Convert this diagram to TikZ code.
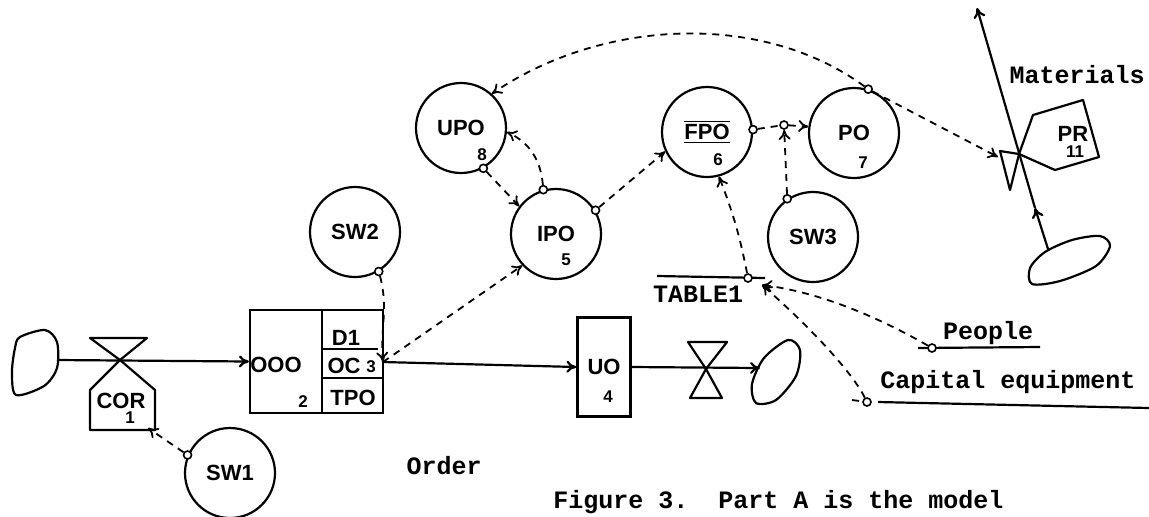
\documentclass[tikz,border=0pt]{standalone}
\usepackage{fontspec}
\setmainfont{Liberation Sans}
\setmonofont{Liberation Mono}
\usetikzlibrary{positioning,arrows.meta,calc}
\tikzset{
  >={To[length=5pt,width=6pt]},
  every node/.style={font=\fontsize{11}{13}\selectfont\bfseries, inner sep=1pt},
  % --- nodes
  aux/.style    = {circle, draw, line width=1.1pt, minimum size=45pt, inner sep=0pt},
  lev/.style    = {draw, line width=1.1pt, inner sep=0pt},
  tap/.style    = {circle, draw, line width=0.8pt, minimum size=4pt, inner sep=0pt, fill=white},
  num/.style    = {font=\fontsize{8.5}{9}\selectfont\bfseries, inner sep=0pt},
  word/.style   = {font=\fontsize{12.5}{14}\selectfont\ttfamily\bfseries, inner sep=0pt},
  % --- edges
  outline/.style = {line width=1.1pt, line join=round},
  flow/.style   = {->, line width=1.1pt},
  info/.style   = {->, line width=0.9pt, dash pattern=on 3.5pt off 3pt},
}
\begin{document}
\begin{tikzpicture}[x=0.5pt,y=-0.5pt]
  \useasboundingbox (0,0) rectangle (1149,516);
  % sources and sinks
  \draw[outline] plot[smooth cycle] coordinates {(20,337) (45,330) (57,342) (57,368) (44,386) (16,395) (12,372) (15,348)};
  \coordinate (srcA) at (57,360);
  \draw[outline] plot[smooth cycle] coordinates {(788,340) (800,350) (796,376) (776,400) (756,403) (752,384) (764,358)};
  \coordinate (snkB) at (760,368);
  \draw[outline] plot[smooth cycle] coordinates {(1030,268) (1045,252) (1072,240) (1100,236) (1110,246) (1096,266) (1060,281) (1032,284)};
  \coordinate (srcC) at (1048,249);
  % levels
  \node[lev, minimum width=66.5pt, minimum height=51.5pt] (ooo) at (316.5,361.5) {};
  \draw[outline] (322,310) -- (322,413);
  \draw[outline] (322,349) -- (378,349);
  \draw[outline] (322,378) -- (383,378);
  \node (ooolab) at (276,365) {OOO};
  \node[num] (n2) at (303,402) {2};
  \node (d1) at (346,338) {D1};
  \node (oc) at (344,366) {OC};
  \node[num] (n3) at (371,367) {3};
  \node (tpo) at (353,398) {TPO};
  \coordinate (ocr) at (383,362);
  \node[lev, minimum width=26.5pt, minimum height=49.5pt] (uo) at (604,367) {UO};
  \node[num] (n4) at (608,397) {4};
  % valves
  \coordinate (corx) at (120,360);
  \draw[outline] (corx) -- (90,338) -- (147,338) -- cycle;
  \draw[outline] (corx) -- (90,390) -- (90,430) -- (155,430) -- (155,390) -- cycle;
  \node (cor) at (121,401) {COR};
  \node[num] (n1) at (130,418) {1};
  \coordinate (corb) at (148,428);
  \coordinate (uox) at (706,369);
  \draw[outline] (uox) -- (688,342) -- (727,342) -- cycle;
  \draw[outline] (uox) -- (690,398) -- (722,398) -- cycle;
  \coordinate (prx) at (1019,154);
  \draw[outline] (prx) -- (1000,151) -- (1010,190) -- cycle;
  \draw[outline] (prx) -- (1033,115) -- (1083,100) -- (1099,157) -- (1055,170) -- cycle;
  \node (pr) at (1073,134) {PR};
  \node[num] (n11) at (1075,152) {11};
  \coordinate (prin) at (998,157);
  % auxiliaries
  \node[aux] (sw1) at (230,473) {SW1};
  \node[aux] (sw2) at (355,232) {SW2};
  \node[aux] (upo) at (461,128) {UPO};
  \node[aux] (ipo) at (556,234) {IPO};
  \node[aux] (fpo) at (707,132) {$\overline{\underline{\mbox{FPO}}}$};
  \node[aux] (po)  at (854,133) {PO};
  \node[aux] (sw3) at (813,237) {SW3};
  \node[num] (n8) at ($(upo)+(21,27)$) {8};
  \node[num] (n5) at ($(ipo)+(10,26)$) {5};
  \node[num] (n6) at ($(fpo)+(11,28)$) {6};
  \node[num] (n7) at ($(po)+(9,30)$) {7};
  % flows
  \draw[flow] (srcA) -- (ooo.west);
  \draw[flow] (ocr) -- (uo.west);
  \draw[flow] (uo.east) -- (snkB);
  \coordinate (mmid) at (1035,208);
  \coordinate (mtop) at (977,8);
  \draw[flow] (srcC) -- (mmid);
  \draw[flow] (mmid) -- (mtop);
  % information links
  \node[tap] (t1) at (sw1.157) {};
  \draw[info] (t1) -- (corb);
  \node[tap] (t2) at (sw2.-59) {};
  \draw[info] (t2) to[out=-75,in=95] (ocr);
  \draw[info] (ocr) -- (ipo.223);
  \node[tap] (t3) at (ipo.106) {};
  \draw[info] (t3) to[out=95,in=-25] (upo.-5);
  \node[tap] (t4) at (upo.-61) {};
  \draw[info] (t4) -- (ipo.143);
  \node[tap] (t5) at (ipo.31) {};
  \draw[info] (t5) -- (fpo.205);
  \node[tap] (t6) at (fpo.3) {};
  \node[tap] (jn) at (784,125) {};
  \draw[info,-] (t6) -- (jn);
  \draw[info] (jn) -- (po.172);
  \node[tap] (t7) at (sw3.124) {};
  \draw[info] (t7) -- (jn);
  \node[tap] (t8) at (po.72) {};
  \draw[info] (t8) .. controls (760,10) and (600,20) .. (upo.48);
  \draw[info] (t8) -- (prin);
  % table and outside inputs
  \draw[outline] (657,276) -- (765,278);
  \node[tap] (tb) at (748,278) {};
  \node[word] (table) at (698,294) {TABLE1};
  \draw[info] (tb) to[bend right=5] (fpo.-75);
  \coordinate (tbin) at (762,285);
  \node[word] (people) at (988,333) {People};
  \draw[outline] (918,348) -- (1040,347);
  \node[tap] (pp) at (932,348) {};
  \draw[info] (pp) .. controls (880,318) and (820,292) .. (tbin);
  \node[word] (capital) at (1008,382) {Capital equipment};
  \draw[outline] (878,402) -- (1149,408);
  \node[tap] (cp) at (867,402) {};
  \draw[info,-] (852,400) -- (cp);
  \draw[info] (cp) .. controls (850,368) and (800,318) .. (tbin);
  \node[word] (materials) at (1077,75) {Materials};
  \node[word] (order) at (444,466) {Order};
  \node[word, anchor=north west] (caption) at (553,490) {Figure 3.\ \ Part A is the model};
\end{tikzpicture}
\end{document}
